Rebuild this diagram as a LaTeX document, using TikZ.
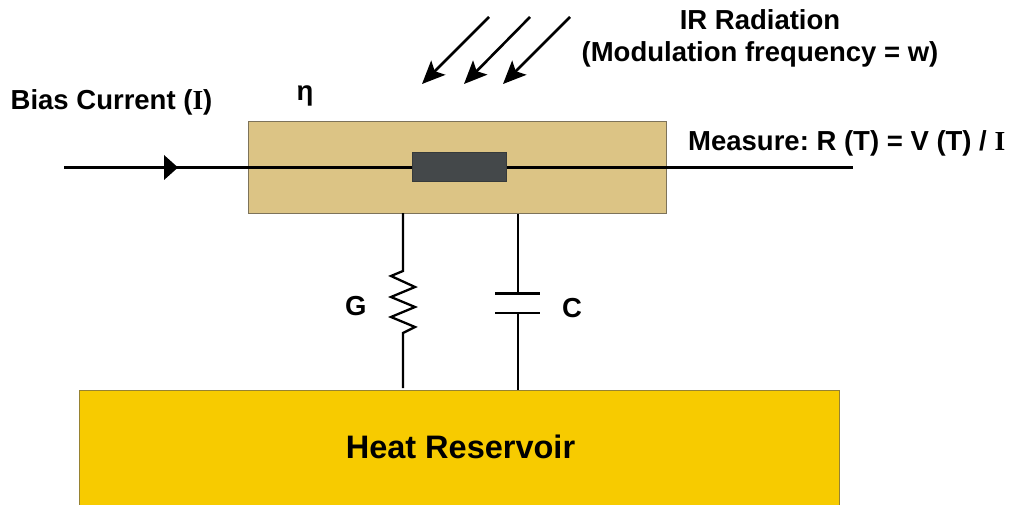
\documentclass[tikz,border=0pt]{standalone}
\usepackage{fontspec}
\setmainfont{Liberation Sans}
\newfontfamily\serifb{Liberation Serif}[BoldFont={Liberation Serif Bold}]
\usetikzlibrary{arrows.meta}
\definecolor{tanbox}{RGB}{220,196,133}
\definecolor{tanedge}{RGB}{125,115,90}
\definecolor{sensor}{RGB}{68,72,74}
\definecolor{reservoir}{RGB}{247,203,0}
\definecolor{resedge}{RGB}{150,130,50}
\frenchspacing
\tikzset{
  x=1pt,y=-1pt,
  lab/.style={inner sep=0pt,align=center,font=\fontsize{27.5}{32.5}\bfseries\selectfont},
  wire/.style={line width=3pt,black},
  thin wire/.style={line width=2.6pt,black},
  ray/.style={line width=2.6pt,black,-{Stealth[length=23pt,width=20pt,inset=5pt]}},
  block/.style={inner sep=0pt,outer sep=0pt,draw,line width=1pt,anchor=north west},
}
\newcommand{\serifI}{{\serifb\bfseries I}}
\begin{document}
\begin{tikzpicture}
\useasboundingbox (0,0) rectangle (1014,505);
\node[block,fill=tanbox,draw=tanedge,minimum width=418pt,minimum height=92pt] (plate) at (248,121.5) {};
\node[block,fill=reservoir,draw=resedge,minimum width=760pt,minimum height=120pt] (res) at (79.5,390.5) {};
\clip (0,0) rectangle (1014,505);
\coordinate (inA) at (64,167.5);
\coordinate (outB) at (853,167.5);
\draw[wire] (inA) -- (outB);
\node[block,fill=sensor,draw=sensor!80!black,minimum width=94pt,minimum height=29pt] (det) at (412.5,152.5) {};
\fill[black] (164,155) -- (178,167.5) -- (164,180) -- cycle;
% IR rays
\coordinate (r1s) at (489,17); \coordinate (r1e) at (422,84);
\coordinate (r2s) at (530,17); \coordinate (r2e) at (464,84);
\coordinate (r3s) at (570,17); \coordinate (r3e) at (503,84);
\draw[ray] (r1s) -- (r1e);
\draw[ray] (r2s) -- (r2e);
\draw[ray] (r3s) -- (r3e);
% resistor
\coordinate (gTop) at (403,213);
\coordinate (gBot) at (403,388);
\draw[line width=2.3pt,black,line join=miter] (gTop) -- (403,271) -- (391,276) -- (415,287) -- (391,297) -- (415,307) -- (391,317) -- (415,327) -- (403,333) -- (gBot);
% capacitor
\coordinate (cTop) at (518,214);
\coordinate (cBot) at (518,390);
\coordinate (p1) at (518,293.5);
\coordinate (p2) at (518,313);
\draw[thin wire] (cTop) -- (p1);
\draw[thin wire] (p2) -- (cBot);
\draw[thin wire] (495,293.5) -- (540,293.5);
\draw[thin wire] (495,313) -- (540,313);
% labels
\node[lab,anchor=center] (ir) at (760,38.5) {IR Radiation\\(Modulation frequency = w)};
\node[lab,anchor=base west] (bias) at (10.5,110) {Bias Current (\serifI)};
\node[lab,anchor=base west] (eta) at (296.5,101) {η};
\node[lab,anchor=base west] (meas) at (688,151) {Measure: R (T) = V (T) / \serifI};
\node[lab,anchor=base west] (g) at (345,315) {G};
\node[lab,anchor=base west] (c) at (562,317.5) {C};
\node[inner sep=0pt,font=\fontsize{32.5}{36}\bfseries\selectfont,anchor=base] (heat) at (460.5,458) {Heat Reservoir};
\end{tikzpicture}
\end{document}
